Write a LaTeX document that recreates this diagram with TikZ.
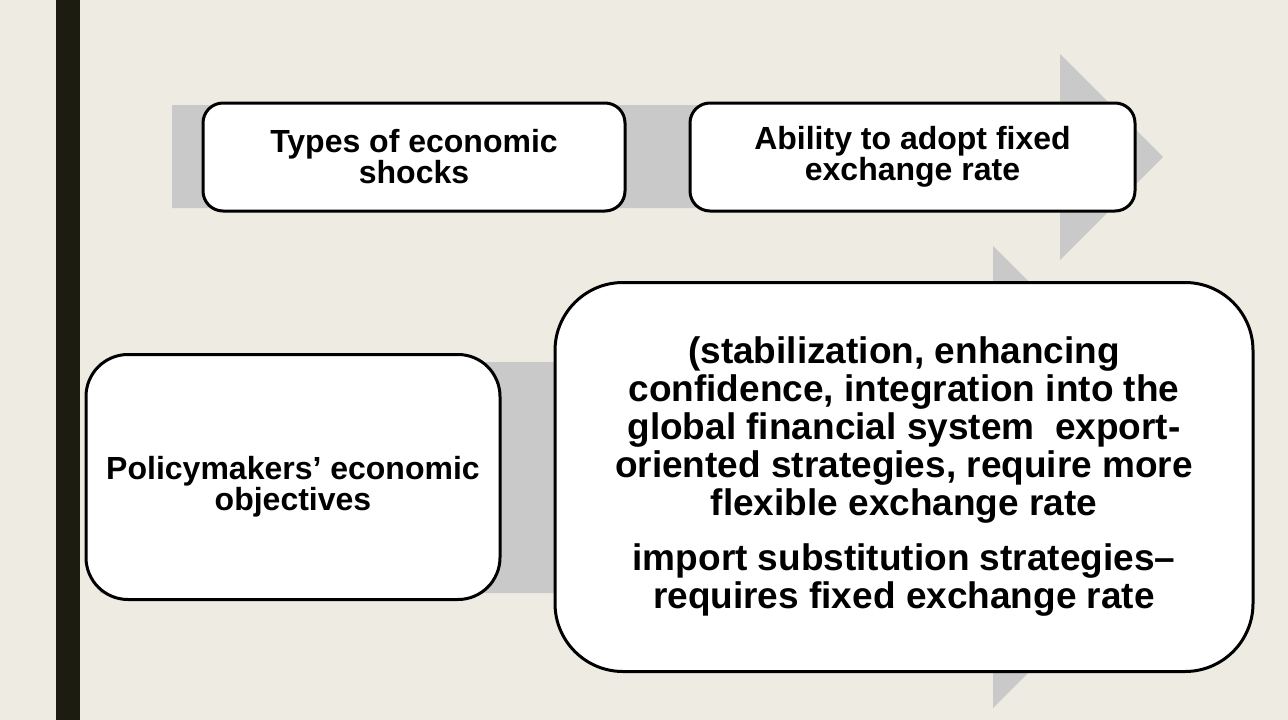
\documentclass[tikz,border=0pt]{standalone}
\usepackage{fontspec}
\setmainfont{Liberation Sans}
\usetikzlibrary{positioning}

\definecolor{slidebg}{HTML}{EEEBE3}
\definecolor{sidebar}{HTML}{1C1C10}
\definecolor{flowgray}{HTML}{C9C9C9}

\begin{document}
\begin{tikzpicture}[x=1pt, y=-1pt]

  % Styles
  \tikzset{
    factor box/.style={draw=black, line width=3pt, fill=white, align=center,
      font=\bfseries\fontsize{32}{31}\selectfont, inner sep=0pt},
    flow band/.style={fill=flowgray, draw=none}
  }

  % --- SLIDE BACKGROUND ---
  \useasboundingbox (0,0) rectangle (1288,720);
  \fill[slidebg] (0,0) rectangle (1288,720);
  \fill[sidebar] (56,0) rectangle (80,720);

  % --- FLOW ARROWS (behind the boxes) ---
  % upper row
  \path[flow band] (172,105) -- (1060,105) -- (1060,54) -- (1163,157)
    -- (1060,260) -- (1060,208) -- (172,208) -- cycle;
  % lower row
  \path[flow band] (100,362) -- (993,362) -- (993,246) -- (1224,477)
    -- (993,708) -- (993,593) -- (100,593) -- cycle;

  % --- UPPER ROW ---
  \node[factor box, rounded corners=20pt, minimum width=422pt, minimum height=108pt]
    (shocks) at (414,157) {Types of economic\\shocks};
  \node[factor box, rounded corners=20pt, minimum width=445pt, minimum height=108pt,
    right=62pt of shocks] (fixedrate) {Ability to adopt fixed\\exchange rate};

  % --- LOWER ROW ---
  % strut pushes the two lines a little below the middle
  \node[factor box, rounded corners=42pt, minimum width=414pt, minimum height=245pt]
    (objectives) at (293,477) {\rule{0pt}{43pt}Policymakers’ economic\\objectives};
  \node[factor box, rounded corners=68pt, minimum width=698pt, minimum height=389pt,
    font=\bfseries\fontsize{37}{38}\selectfont, right=52pt of objectives] (strategies)
    {(stabilization, enhancing\\
     confidence, integration into the\\
     global financial system\ \ export-\\
     oriented strategies, require more\\
     flexible exchange rate\\[17pt]
     import substitution strategies–\\
     requires fixed exchange rate};

\end{tikzpicture}
\end{document}
